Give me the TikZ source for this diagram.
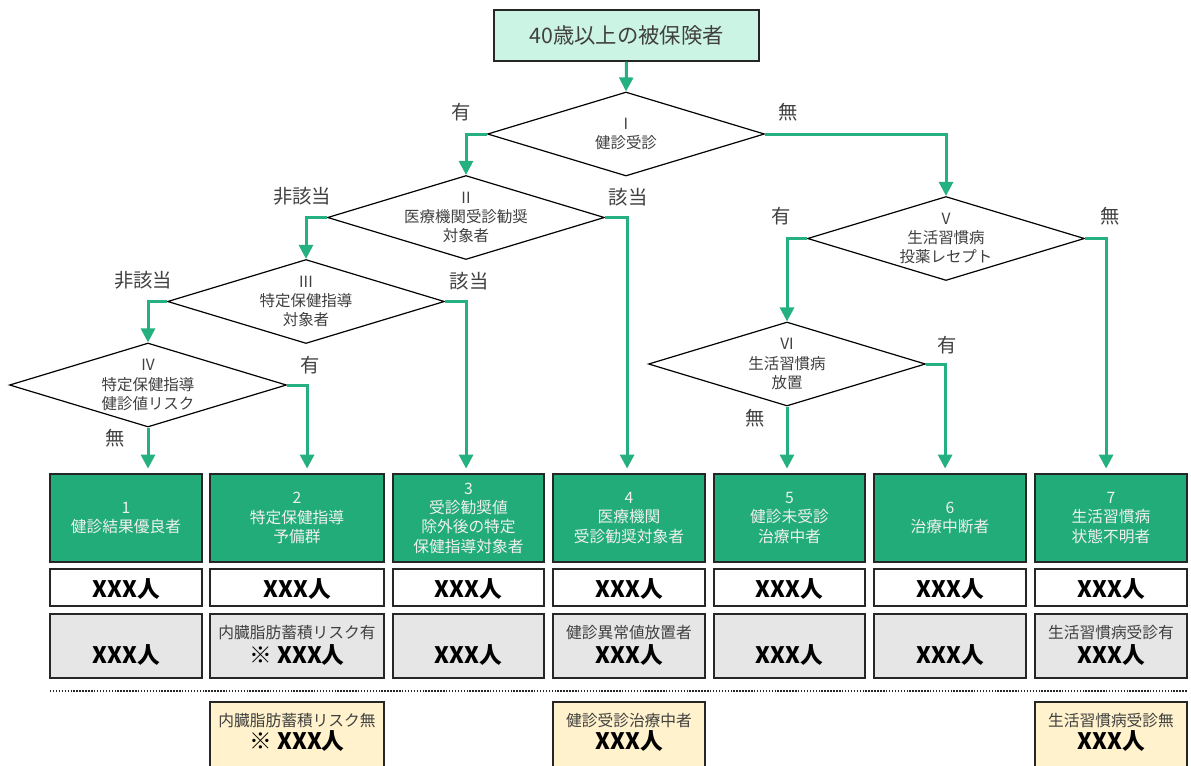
\documentclass[tikz,border=0pt]{standalone}
\usepackage{fontspec}
\setmainfont{Noto Sans CJK JP}
\usetikzlibrary{positioning,arrows.meta,shapes.geometric,calc}
\definecolor{mintpale}{RGB}{204,244,228}
\definecolor{flowgreen}{RGB}{36,176,127}
\definecolor{catgreen}{RGB}{34,172,122}
\definecolor{boxedge}{RGB}{38,38,38}
\definecolor{inkgray}{RGB}{64,64,64}
\definecolor{subgray}{RGB}{230,230,230}
\definecolor{notecream}{RGB}{255,242,204}

\begin{document}
\begin{tikzpicture}[x=0.75pt,y=-0.75pt,
          startbox/.style={draw=boxedge,line width=1.1pt,fill=mintpale,
            minimum width=198.75pt,minimum height=38.25pt,inner sep=0pt,
            text=inkgray,font=\fontsize{16pt}{19pt}\selectfont},
          decis/.style={diamond,draw=black,line width=0.9pt,fill=white,
            minimum width=207.75pt,minimum height=63pt,inner sep=0pt},
          dtext/.style={align=center,text=inkgray,inner sep=0pt,
            font=\fontsize{11.6pt}{14.4pt}\selectfont},
          branch/.style={text=inkgray,inner sep=0pt,
            font=\fontsize{14.5pt}{17pt}\selectfont},
          flow/.style={draw=flowgreen,line width=2.25pt,
            -{Triangle[width=10.5pt,length=10.5pt]}},
          catbox/.style={draw=boxedge,line width=1.1pt,fill=catgreen,
            text=white!94!black,minimum height=66pt,inner sep=0pt,align=center,
            font=\fontsize{11.8pt}{14.5pt}\selectfont},
          cntbox/.style={draw=boxedge,line width=1.1pt,fill=white,
            minimum height=27.75pt,inner sep=0pt,text height=17pt,text depth=1.25pt,
            font=\fontsize{17pt}{19pt}\selectfont\bfseries},
          subbox/.style={cntbox,fill=subgray,minimum height=48pt,
            text height=28pt,text depth=1.4pt},
          notebox/.style={subbox,fill=notecream,minimum height=48.75pt,
            text height=24.6pt},
          subtxt/.style={text=inkgray,inner sep=0pt,
            font=\fontsize{11.8pt}{14pt}\selectfont},
          sepline/.style={draw=boxedge,line width=1.4pt,
            dash pattern=on 1.1pt off 1.1pt}]

        \useasboundingbox (0,0) rectangle (1191,765);
        \clip (0,0) rectangle (1191,765);

        % decision tree
        \node[startbox] (start) at (626.5,35.5) {40歳以上の被保険者};

        \node[decis] (d1) at (626,134) {};
        \node[dtext] (t1) at (d1.center) {I\\健診受診};
        \node[decis] (d2) at (466,217.5) {};
        \node[dtext] (t2) at (d2.center) {II\\医療機関受診勧奨\\対象者};
        \node[decis] (d3) at (306,301.5) {};
        \node[dtext] (t3) at (d3.center) {III\\特定保健指導\\対象者};
        \node[decis] (d4) at (148,385) {};
        \node[dtext] (t4) at (d4.center) {IV\\特定保健指導\\健診値リスク};
        \node[decis] (d5) at (946,238.5) {};
        \node[dtext] (t5) at (d5.center) {V\\生活習慣病\\投薬レセプト};
        \node[decis] (d6) at (787,364) {};
        \node[dtext] (t6) at (d6.center) {VI\\生活習慣病\\放置};

        \node[branch] (b1) at (461,112) {有};
        \node[branch] (b2) at (788,112) {無};
        \node[branch] (b3) at (302,196) {非該当};
        \node[branch] (b4) at (628,197) {該当};
        \node[branch] (b5) at (143,280) {非該当};
        \node[branch] (b6) at (469,281) {該当};
        \node[branch] (b7) at (310,365) {有};
        \node[branch] (b8) at (115,438) {無};
        \node[branch] (b9) at (781,216) {有};
        \node[branch] (b10) at (1110,216) {無};
        \node[branch] (b11) at (947,345) {有};
        \node[branch] (b12) at (755,418) {無};

        % result groups
        \node[catbox,minimum width=114pt] (c1) at (126,518)
          {1\\健診結果優良者};
        \node[catbox,minimum width=130.5pt] (c2) at (297,518)
          {2\\特定保健指導\\予備群};
        \node[catbox,minimum width=113.25pt] (c3) at (468.5,518)
          {3\\受診勧奨値\\除外後の特定\\保健指導対象者};
        \node[catbox,minimum width=114pt] (c4) at (629,518)
          {4\\医療機関\\受診勧奨対象者};
        \node[catbox,minimum width=113.25pt] (c5) at (789.5,518)
          {5\\健診未受診\\治療中者};
        \node[catbox,minimum width=114pt] (c6) at (950,518)
          {6\\治療中断者};
        \node[catbox,minimum width=114pt] (c7) at (1111,518)
          {7\\生活習慣病\\状態不明者};

        \foreach \i/\w in {1/114pt,2/130.5pt,3/113.25pt,4/114pt,
                           5/113.25pt,6/114pt,7/114pt}
          \node[cntbox,minimum width=\w,below=4pt of c\i] (n\i) {XXX人};

        \foreach \i/\w/\v in {1/114pt/XXX人,2/130.5pt/※ XXX人,3/113.25pt/XXX人,
                              4/114pt/XXX人,5/113.25pt/XXX人,6/114pt/XXX人,7/114pt/XXX人}
          \node[subbox,minimum width=\w,below=4.9pt of n\i] (g\i) {\v};

        \node[subtxt] (s2) at ($(g2.center)+(0,-13)$) {内臓脂肪蓄積リスク有};
        \node[subtxt] (s4) at ($(g4.center)+(0,-13)$) {健診異常値放置者};
        \node[subtxt] (s7) at ($(g7.center)+(0,-13)$) {生活習慣病受診有};

        \coordinate (sepL) at (50,691);
        \coordinate (sepR) at (1187,691);
        \draw[sepline] (sepL) -- (sepR);

        \node[notebox,minimum width=130.5pt,below=16.9pt of g2] (y2) {※ XXX人};
        \node[subtxt] (u2) at ($(y2.center)+(0,-13.5)$) {内臓脂肪蓄積リスク無};
        \node[notebox,minimum width=114pt,below=16.9pt of g4] (y4) {XXX人};
        \node[subtxt] (u4) at ($(y4.center)+(0,-13.5)$) {健診受診治療中者};
        \node[notebox,minimum width=114pt,below=16.9pt of g7] (y7) {XXX人};
        \node[subtxt] (u7) at ($(y7.center)+(0,-13.5)$) {生活習慣病受診無};

        % connectors
        \draw[flow] (start.south) -- (d1.north);
        \draw[flow] (d1.west) -| (d2.north);
        \draw[flow] (d1.east) -| (d5.north);
        \draw[flow] (d2.west) -| (d3.north);
        \draw[flow] (d3.west) -| (d4.north);
        \draw[flow] (d5.west) -| (d6.north);

        \draw[flow,shorten >=3.5pt] (d4.south) -- (d4.south |- c1.north);
        \draw[flow,shorten >=3.5pt] (d4.east) -- ++(20,0) coordinate (k2) -- (k2 |- c2.north);
        \draw[flow,shorten >=3.5pt] (d3.east) -- ++(21,0) coordinate (k3) -- (k3 |- c3.north);
        \draw[flow,shorten >=3.5pt] (d2.east) -- ++(22,0) coordinate (k4) -- (k4 |- c4.north);
        \draw[flow,shorten >=3.5pt] (d6.south) -- (d6.south |- c5.north);
        \draw[flow,shorten >=3.5pt] (d6.east) -- ++(19,0) coordinate (k6) -- (k6 |- c6.north);
        \draw[flow,shorten >=3.5pt] (d5.east) -- ++(21,0) coordinate (k7) -- (k7 |- c7.north);
      \end{tikzpicture}
\end{document}
